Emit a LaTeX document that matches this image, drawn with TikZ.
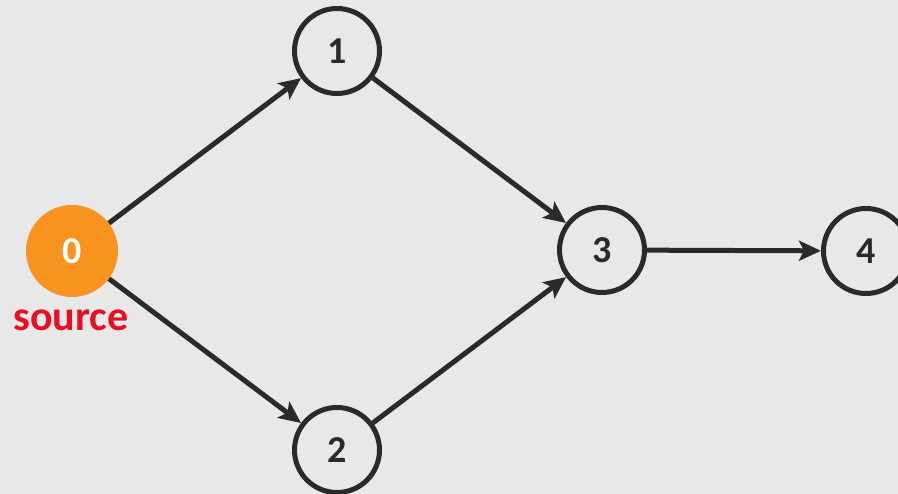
\documentclass[tikz,border=0pt]{standalone}
\usepackage{fontspec}
\setmainfont{Carlito}
\usetikzlibrary{arrows.meta}
\definecolor{bg}{HTML}{E8E8E8}
\definecolor{ink}{HTML}{2A2A2A}
\definecolor{srcorange}{HTML}{F7931E}
\definecolor{srcred}{HTML}{E8101E}
\begin{document}
\begin{tikzpicture}[x=1pt,y=-1pt,
  vertex/.style={circle,draw=ink,line width=5pt,minimum size=85pt,inner sep=0pt,fill=bg,font=\fontsize{38}{40}\selectfont\bfseries,text=ink},
  srcvertex/.style={circle,fill=srcorange,minimum size=92pt,inner sep=0pt,font=\fontsize{38}{40}\selectfont\bfseries,text=white},
  edge/.style={draw=ink,line width=5pt,-{Stealth[length=22pt,width=20pt,inset=5pt]}}]
\fill[bg] (0,0) rectangle (898,494);
\useasboundingbox (0,0) rectangle (898,494);
\node[srcvertex] (n0) at (72,251) {0};
\node[vertex] (n1) at (337,51) {1};
\node[vertex] (n2) at (337,450) {2};
\node[vertex] (n3) at (602,250) {3};
\node[vertex] (n4) at (866,251) {4};
\node[text=srcred,font=\fontsize{42}{44}\selectfont\bfseries] (lbl) at (71,320) {source};
\draw[edge] (n0) -- (n1);
\draw[edge] (n0) -- (n2);
\draw[edge] (n1) -- (n3);
\draw[edge] (n2) -- (n3);
\draw[edge] (n3) -- (n4);
\end{tikzpicture}
\end{document}
